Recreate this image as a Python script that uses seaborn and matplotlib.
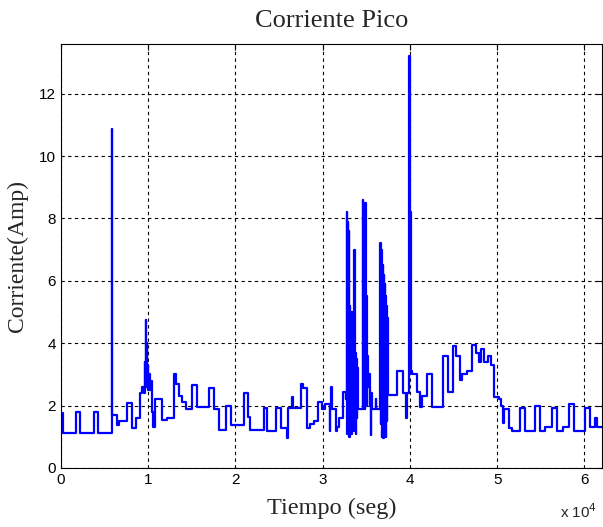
import numpy as np
import pandas as pd
import matplotlib
matplotlib.use("Agg")
import matplotlib.pyplot as plt
import seaborn as sns

# Peak current breakpoints (time in s, current in A)
tiempo = [
    0, 200, 1690, 2180, 3790, 4200, 5810, 5870, 6380, 6700,
    7530, 8150, 8600, 9060, 9300, 9500, 9600, 9650, 9710, 9760,
    9820, 9880, 9940, 10000, 10100, 10200, 10300, 10400, 10500, 10800,
    11550, 12200, 12960, 13200, 13500, 13900, 14300, 14990, 15560, 16980,
    17590, 18120, 18890, 19500, 20990, 21410, 21700, 23290, 23670, 24660,
    25200, 25900, 26000, 26460, 26600, 27490, 27800, 28250, 28500, 29000,
    29520, 29900, 30300, 30800, 30860, 31000, 31100, 31500, 31700, 31900,
    32310, 32690,
    32700, 32760, 32820, 32880, 32940, 33000, 33060, 33120, 33180, 33240,
    33300, 33360, 33420, 33480, 33540, 33600, 33660, 33720, 33780, 33840,
    33900, 33960, 34000,
    34600, 34650, 34700, 34750, 34800, 34850, 34900, 34950, 35000, 35050,
    35100, 35150, 35200, 35250, 35300, 35400, 35520, 35560, 35620, 36100,
    36150,
    36600, 36650, 36700, 36750, 36800, 36850, 36900, 36950, 37000, 37050,
    37100, 37150, 37200, 37250, 37300, 37350, 37400, 37450,
    38500, 39190, 39600, 39700, 39900, 39950, 40000, 40030, 40080,
    40300, 40800, 41180, 41400, 41940, 42510, 43780, 44420, 45000, 45300,
    45770, 46000, 46500, 47110, 47600, 47870, 48200, 48500, 49000, 49300,
    49590, 50160, 50500, 50700, 50800, 51310, 51700, 52650, 53220, 54370,
    54940, 55500, 56280, 56860, 57500, 58190, 58760, 60100, 60680, 61200,
    61400, 62000,
]
corriente = [
    1.77, 1.12, 1.80, 1.12, 1.80, 1.12, 10.87, 1.70, 1.38, 1.50,
    2.08, 1.28, 1.60, 2.40, 2.60, 2.40, 3.40, 2.60, 4.75, 2.80,
    4.00, 2.60, 3.30, 2.50, 3.00, 2.50, 2.80, 1.80, 1.32, 2.20,
    1.55, 1.60, 3.00, 2.70, 2.30, 2.10, 1.90, 2.67, 1.97, 2.57,
    1.90, 1.22, 2.00, 1.38, 2.40, 1.64, 1.22, 1.93, 1.17, 1.93,
    1.28, 0.96, 1.93, 2.29, 1.93, 2.70, 2.55, 1.28, 1.42, 1.50,
    2.13, 1.90, 2.05, 1.20, 2.00, 2.60, 1.90, 1.20, 1.30, 1.60,
    2.45, 2.20,
    2.40, 8.20, 1.10, 7.90, 1.30, 7.60, 1.00, 5.20, 1.40, 4.90,
    1.10, 5.00, 1.50, 4.40, 1.20, 7.00, 1.30, 3.70, 1.10, 3.50,
    1.60, 3.20, 1.90,
    8.60, 1.90, 8.20, 2.00, 6.00, 1.90, 8.50, 2.10, 5.50, 2.00,
    3.60, 2.80, 3.40, 2.60, 3.00, 2.00, 1.06, 2.40, 1.90, 2.20,
    1.90,
    7.20, 1.40, 7.00, 1.00, 6.80, 1.20, 6.50, 0.96, 6.20, 1.10,
    5.90, 1.30, 5.50, 1.00, 5.20, 1.50, 4.80, 2.35,
    3.10, 2.40, 1.60, 2.40, 8.00, 13.20, 3.00, 8.20, 3.10,
    3.00, 2.45, 1.97, 2.30, 3.00, 1.95, 3.58, 2.45, 3.90, 3.60,
    2.83, 3.00, 3.10, 3.95, 3.70, 3.40, 3.80, 3.40, 3.60, 3.30,
    2.29, 2.20, 2.00, 1.45, 1.90, 1.28, 1.18, 1.93, 1.18, 2.00,
    1.20, 1.30, 1.93, 1.20, 1.30, 2.05, 1.20, 1.93, 1.30, 1.60,
    1.30, 1.30,
]

df = pd.DataFrame({"tiempo": tiempo, "corriente": corriente})

sns.set_style("white")
plt.rcParams["font.family"] = ["Liberation Sans", "DejaVu Sans"]

fig = plt.figure(figsize=(6.03, 5.27), dpi=100)
ax = fig.add_axes([0.101, 0.112, 0.897, 0.805])

sns.lineplot(data=df, x="tiempo", y="corriente", ax=ax, color="#0000ff",
             linewidth=1.6, estimator=None, sort=False, drawstyle="steps-post")

ax.set_xlim(0, 62000)
ax.set_ylim(0, 13.6)
ax.set_xticks(np.arange(0, 60001, 10000))
ax.set_xticklabels([str(i) for i in range(7)])
ax.set_yticks(np.arange(0, 13, 2))
ax.tick_params(direction="in", length=4, labelsize=11, colors="black",
               top=True, right=True)
ax.grid(True, color="black", linestyle=(0, (3, 3)), linewidth=0.8)
for s in ax.spines.values():
    s.set_color("black")
    s.set_linewidth(0.8)

serif = ["Liberation Serif", "DejaVu Serif"]
ax.set_title("Corriente Pico", family=serif, fontsize=19, pad=12)
ax.set_xlabel("Tiempo (seg)", family=serif, fontsize=17.5, labelpad=8)
ax.set_ylabel("Corriente(Amp)", family=serif, fontsize=17, labelpad=8)
fig.text(0.928, 0.012, r"x 10$^{4}$", fontsize=11, ha="left", va="bottom")

fig.savefig("out.png", dpi=100)
